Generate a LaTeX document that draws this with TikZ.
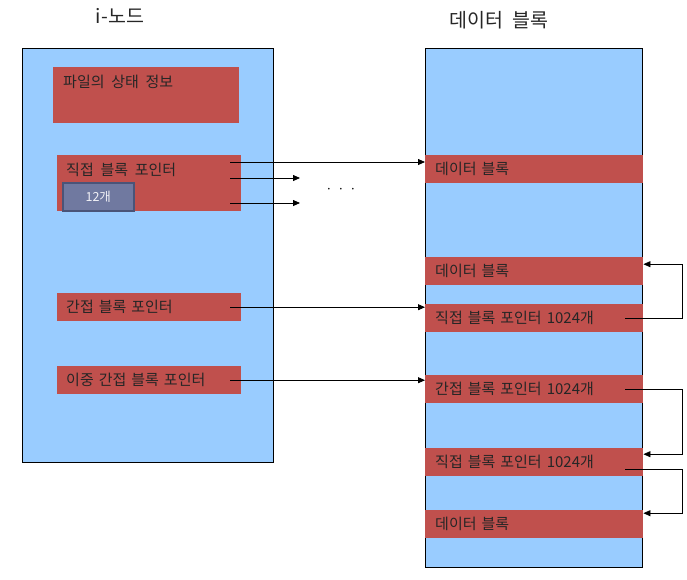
\documentclass[tikz,border=0pt]{standalone}
\usepackage{fontspec}
\setmainfont[WordSpace=2]{Noto Sans CJK KR}
\usetikzlibrary{arrows.meta}
\definecolor{paleblue}{HTML}{99CCFF}
\definecolor{brick}{HTML}{C0504D}
\definecolor{slate}{HTML}{7079A0}
\definecolor{slateline}{HTML}{4A5478}
\begin{document}
\begin{tikzpicture}[x=1pt, y=-1pt,
  panel/.style={draw=black, fill=paleblue, line width=0.8pt, anchor=north west, inner sep=0pt},
  field/.style={fill=brick, anchor=north west, inner sep=0pt},
  fieldtxt/.style={anchor=west, inner sep=0pt, font=\fontsize{15}{17}\selectfont, text=black!85},
  strip/.style={fill=brick, anchor=north west, minimum height=28pt, inner ysep=0pt, align=left, font=\fontsize{15}{17}\selectfont, text=black!85},
  rstrip/.style={strip, text width=198pt, inner xsep=10pt},
  lstrip/.style={strip, text width=166pt, inner xsep=9pt},
  count/.style={draw=slateline, line width=1.6pt, fill=slate, anchor=north west, minimum width=71pt, minimum height=28pt, inner sep=0pt, font=\fontsize{12.5}{14}\selectfont, text=white!90!slate},
  title/.style={font=\fontsize{19.5}{22}\selectfont, text=black!85},
  arr/.style={-{Triangle[length=7pt, width=6pt]}, line width=0.8pt}]
\useasboundingbox[fill=white] (0,0) rectangle (687,579);
% titles
\node[title] (inodetitle) at (120,16) {i-노드};
\node[title] (datatitle) at (499,20) {데이터 블록};
% i-node
\node[panel, minimum width=251pt, minimum height=414pt] (inode) at (22,48) {};
\node[field, minimum width=186pt, minimum height=56pt] (state) at (53,67) {};
\node[fieldtxt] (statetxt) at ([shift={(10,15)}]state.north west) {파일의 상태 정보};
\node[field, minimum width=184pt, minimum height=56pt] (direct) at (57,155) {};
\node[fieldtxt] (directtxt) at ([shift={(9,15)}]direct.north west) {직접 블록 포인터};
\node[count] (twelve) at (62,182) {12개};
\node[lstrip] (ind) at (57,293) {간접 블록 포인터};
\node[lstrip] (dind) at (57,366) {이중 간접 블록 포인터};
% data blocks
\node[panel, minimum width=217pt, minimum height=519pt] (blocks) at (425,48) {};
\node[rstrip] (data1) at (425,155) {데이터 블록};
\node[rstrip] (data2) at (425,257) {데이터 블록};
\node[rstrip] (dptr1) at (425,304) {직접 블록 포인터 1024개};
\node[rstrip] (iptr) at (425,375) {간접 블록 포인터 1024개};
\node[rstrip] (dptr2) at (425,448) {직접 블록 포인터 1024개};
\node[rstrip] (data3) at (425,510) {데이터 블록};
% pointers
\coordinate (more1) at (300,178);
\coordinate (more2) at (300,203);
\node[font=\fontsize{12}{14}\selectfont] (dots) at (341,191) {· · ·};
\draw[arr] ([shift={(-11,7)}]direct.north east) coordinate (p1) -- (p1 -| data1.west);
\draw[arr] ([xshift=-11pt]direct.east |- more1) -- (more1);
\draw[arr] ([xshift=-11pt]direct.east |- more2) -- (more2);
\draw[arr] ([xshift=-11pt]ind.east) -- (ind.east -| dptr1.west);
\draw[arr] ([xshift=-11pt]dind.east) -- (dind.east -| iptr.west);
\draw[arr] ([xshift=-18pt]dptr1.east) -- ++(57,0) |- ([yshift=7pt]data2.east);
\draw[arr] ([xshift=-18pt]iptr.east) -- ++(57,0) |- ([yshift=8pt]dptr2.east);
\draw[arr] ([shift={(-18pt,-7pt)}]dptr2.east) -- ++(57,0) |- ([yshift=11pt]data3.east);
\end{tikzpicture}
\end{document}
